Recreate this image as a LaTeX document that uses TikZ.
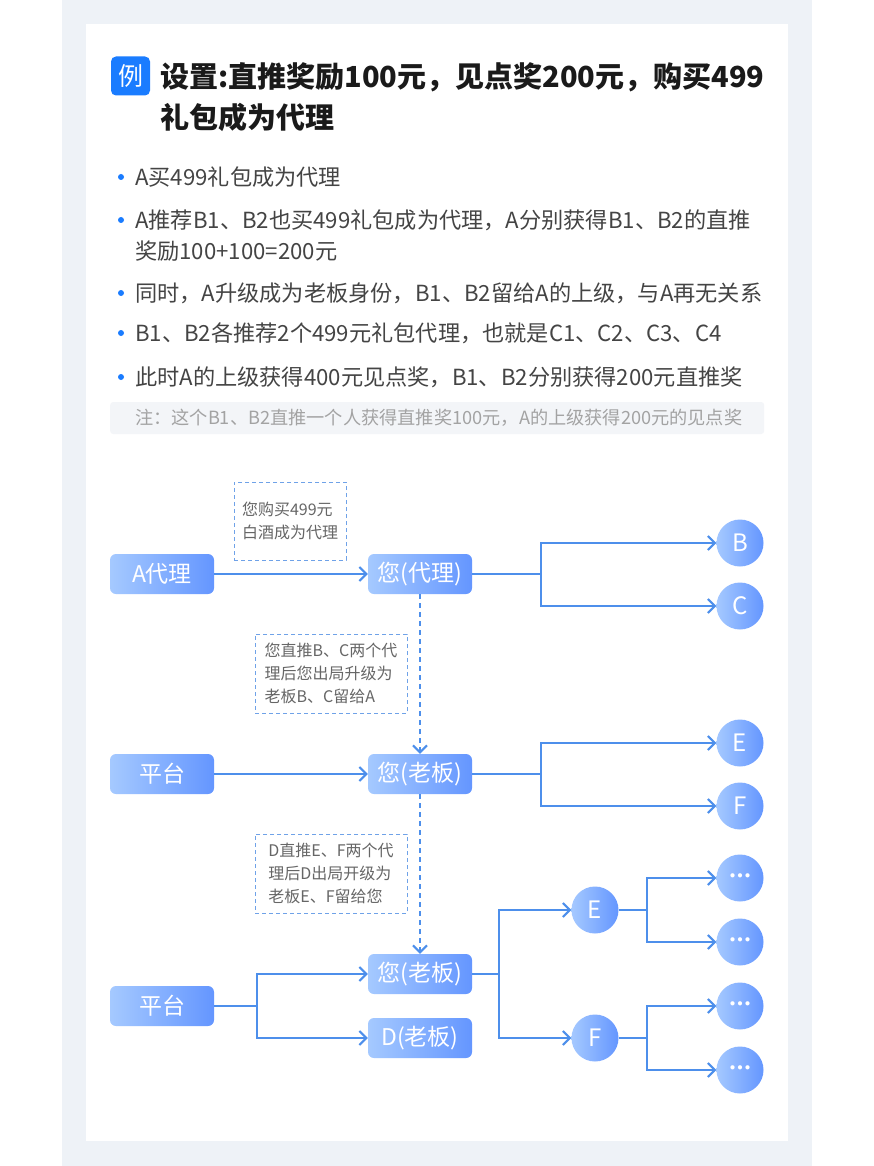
\documentclass[tikz,border=0pt]{standalone}
\usepackage{tikz}
\usepackage{fontspec,xcolor}
\usetikzlibrary{arrows.meta}
\setmainfont{Noto Sans CJK SC}
\definecolor{pageGrey}{HTML}{EEF2F7}
\definecolor{lineBlue}{HTML}{4D8FEB}
\definecolor{dashBlue}{HTML}{6FA2E8}
\definecolor{boxLight}{HTML}{A5C9FF}
\definecolor{boxDark}{HTML}{6496FF}
\definecolor{badgeBlue}{HTML}{1A7CFF}
\definecolor{titleBlack}{HTML}{1A1A1A}
\definecolor{bodyGrey}{HTML}{444444}
\definecolor{tipGrey}{HTML}{666666}
\definecolor{noteFill}{HTML}{F3F5F8}
\definecolor{noteGrey}{HTML}{A3A3A3}
\newcommand{\fsize}[2]{\fontsize{#1}{#2}\selectfont}
\newcommand{\moreDots}{•\kern-7.5pt•\kern-7.5pt•}
\tikzset{
  roleBox/.style={rounded corners=6pt,left color=boxLight,right color=boxDark,text=white,
    minimum width=104pt,minimum height=40pt,inner sep=0pt,font=\fsize{23}{26}},
  roleCirc/.style={circle,left color=boxLight,right color=boxDark,text=white,
    minimum size=47pt,inner sep=0pt,font=\fsize{24}{26}},
  tipBox/.style={draw=dashBlue,line width=1pt,dash pattern=on 4pt off 3pt,text=tipGrey,
    align=left,inner sep=0pt,font=\fsize{16}{23}},
  flowLine/.style={draw=lineBlue,line width=2pt},
  flowArrow/.style={flowLine,-{Straight Barb[length=7pt,width=14pt]}},
  dashArrow/.style={flowArrow,dash pattern=on 5pt off 4pt},
  bulletDot/.style={circle,fill=badgeBlue,minimum size=6pt,inner sep=0pt},
  bulletText/.style={anchor=west,text=bodyGrey,align=left,inner sep=0pt,font=\fsize{22.2}{31}},
}

\begin{document}
\begin{tikzpicture}[x=1pt,y=-1pt]
\useasboundingbox (0,0) rectangle (874,1166);
\fill[pageGrey] (62,0) rectangle (812,1166);
\fill[white] (86,24) rectangle (788,1141);

\node[fill=badgeBlue,rounded corners=5pt,minimum size=39pt,inner sep=0pt,text=white,font=\fsize{25}{28}] (badge) at (130.5,76) {例};
\node[anchor=west,inner sep=0pt,text=titleBlack,font=\bfseries\fsize{29}{34}] (titleOne) at (160,77) {设置:直推奖励100元，见点奖200元，购买499};
\node[anchor=west,inner sep=0pt,text=titleBlack,font=\bfseries\fsize{29}{34}] (titleTwo) at (160,117) {礼包成为代理};

\foreach \y/\n in {177/1,220/2,293/3,333/4,377/5}
  \node[bulletDot] (dot\n) at (121,\y) {};
\node[bulletText] (itemOne) at (135,177) {A买499礼包成为代理};
\node[bulletText] (itemTwo) at (135,235.5) {A推荐B1、B2也买499礼包成为代理，A分别获得B1、B2的直推\\奖励100+100=200元};
\node[bulletText] (itemThree) at (135,293) {同时，A升级成为老板身份，B1、B2留给A的上级，与A再无关系};
\node[bulletText] (itemFour) at (135,333) {B1、B2各推荐2个499元礼包代理，也就是C1、C2、C3、C4};
\node[bulletText] (itemFive) at (135,377) {此时A的上级获得400元见点奖，B1、B2分别获得200元直推奖};
\node[fill=noteFill,rounded corners=3pt,anchor=west,minimum width=654pt,minimum height=32pt] (noteBar) at (110,418) {};
\node[anchor=west,inner sep=0pt,text=noteGrey,font=\fsize{18.2}{22}] (noteText) at (135,418) {注：这个B1、B2直推一个人获得直推奖100元，A的上级获得200元的见点奖};

\node[roleBox] (aAgent) at (162,574) {A代理};
\node[roleBox] (youAgent) at (420,574) {您(代理)};
\node[roleCirc] (circB) at (740,543) {B};
\node[roleCirc] (circC) at (740,606) {C};
\node[tipBox,minimum width=112pt,minimum height=78pt] (tipOne) at (290,521) {您购买499元\\白酒成为代理};
\coordinate (forkOne) at (541,574);

\node[roleBox] (platOne) at (162,774) {平台};
\node[roleBox] (youBoss) at (420,774) {您(老板)};
\node[roleCirc] (circE) at (740,743) {E};
\node[roleCirc] (circF) at (740,806) {F};
\node[tipBox,minimum width=152pt,minimum height=79pt] (tipTwo) at (331,673.5) {您直推B、C两个代\\理后您出局升级为\\老板B、C留给A};
\coordinate (forkTwo) at (541,774);

\node[roleBox] (platTwo) at (162,1006) {平台};
\node[roleBox] (youBossTwo) at (420,974) {您(老板)};
\node[roleBox] (dBoss) at (420,1038) {D(老板)};
\node[roleCirc] (circEE) at (595,910) {E};
\node[roleCirc] (circFF) at (595,1038) {F};
\node[tipBox,minimum width=152pt,minimum height=79pt] (tipThree) at (331,873.5) {D直推E、F两个代\\理后D出局开级为\\老板E、F留给您};
\foreach \y/\n in {878/A,942/B,1006/C,1070/D}
  \node[roleCirc,font=\bfseries\fsize{15}{15}] (more\n) at (740,\y) {\moreDots};
\coordinate (forkThree) at (257,1006);
\coordinate (forkFour) at (499,974);
\coordinate (forkFive) at (647,910);
\coordinate (forkSix) at (647,1038);

\draw[flowArrow] (aAgent) -- (youAgent);
\draw[flowLine] (youAgent) -- (forkOne);
\draw[flowArrow] (forkOne) |- (circB);
\draw[flowArrow] (forkOne) |- (circC);
\draw[dashArrow] (youAgent) -- (youBoss);

\draw[flowArrow] (platOne) -- (youBoss);
\draw[flowLine] (youBoss) -- (forkTwo);
\draw[flowArrow] (forkTwo) |- (circE);
\draw[flowArrow] (forkTwo) |- (circF);
\draw[dashArrow] (youBoss) -- (youBossTwo);

\draw[flowLine] (platTwo) -- (forkThree);
\draw[flowArrow] (forkThree) |- (youBossTwo);
\draw[flowArrow] (forkThree) |- (dBoss);
\draw[flowLine] (youBossTwo) -- (forkFour);
\draw[flowArrow] (forkFour) |- (circEE);
\draw[flowArrow] (forkFour) |- (circFF);
\draw[flowLine] (circEE) -- (forkFive);
\draw[flowArrow] (forkFive) |- (moreA);
\draw[flowArrow] (forkFive) |- (moreB);
\draw[flowLine] (circFF) -- (forkSix);
\draw[flowArrow] (forkSix) |- (moreC);
\draw[flowArrow] (forkSix) |- (moreD);
\end{tikzpicture}
\end{document}
